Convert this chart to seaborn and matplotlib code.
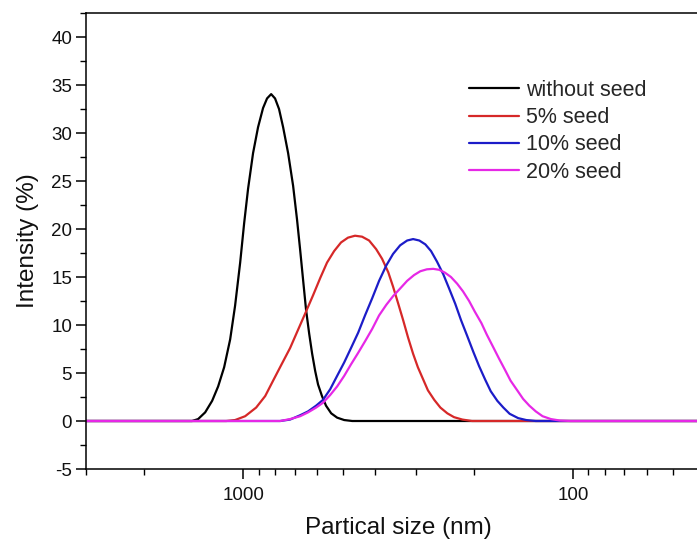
import numpy as np
import pandas as pd
import matplotlib
matplotlib.use("Agg")
import matplotlib.pyplot as plt
import matplotlib.ticker as mticker
from matplotlib.lines import Line2D
import seaborn as sns

# ---- data (size in nm, intensity in %) ----
series_names = ["without seed", "5% seed", "10% seed", "20% seed"]
series_colors = ["#000000", "#d62828", "#1c1cc8", "#e628e6"]

x_black = [3000, 1431, 1372, 1306, 1244, 1193, 1144, 1097, 1060, 1023, 995,
           968, 935, 903, 872, 848, 824, 802, 780, 758, 732, 707, 688, 673,
           659, 646, 632, 619, 606, 594, 578, 562, 542, 520, 495, 468, 30]
y_black = [0, 0, 0.2, 0.9, 2.1, 3.6, 5.6, 8.5, 12.0, 16.5, 20.6,
           24.2, 27.9, 30.6, 32.6, 33.6, 34.05, 33.6, 32.5, 30.6, 27.9, 24.5, 21.0, 17.8,
           14.6, 11.6, 9.1, 7.0, 5.2, 3.8, 2.6, 1.6, 0.8, 0.35, 0.1, 0, 0]

x_red = [3000, 1128, 1060, 988, 915, 859, 813, 769, 722, 683, 646, 615, 585,
         558, 531, 506, 482, 459, 437, 416, 396, 380, 364, 352, 340, 328, 317,
         306, 296, 285, 276, 264, 253, 241, 230, 217, 203, 30]
y_red = [0, 0, 0.1, 0.5, 1.4, 2.6, 4.2, 5.8, 7.6, 9.5, 11.4, 13.1, 14.9,
         16.5, 17.7, 18.6, 19.1, 19.3, 19.2, 18.8, 17.9, 16.9, 15.5, 14.0, 12.3, 10.5, 8.7,
         7.0, 5.6, 4.3, 3.2, 2.2, 1.4, 0.8, 0.4, 0.15, 0, 0]

x_blue = [3000, 774, 722, 673, 637, 602, 574, 546, 520, 495, 472, 449, 428,
          407, 388, 369, 352, 335, 319, 306, 293, 281, 270, 259, 248, 238, 228,
          219, 210, 201, 193, 185, 178, 170, 163, 156, 147, 139, 130, 30]
y_blue = [0, 0, 0.15, 0.6, 1.0, 1.6, 2.2, 3.3, 4.7, 6.1, 7.6, 9.2, 11.0,
          12.8, 14.6, 16.2, 17.4, 18.3, 18.8, 18.95, 18.8, 18.4, 17.7, 16.6, 15.3, 13.8, 12.2,
          10.5, 8.9, 7.2, 5.7, 4.3, 3.1, 2.1, 1.4, 0.75, 0.3, 0.1, 0, 0]

x_magenta = [3000, 774, 722, 673, 637, 602, 574, 546, 520, 495, 472, 449, 428,
             407, 388, 369, 352, 335, 319, 304, 291, 278, 266, 255, 245, 235, 225,
             216, 207, 199, 190, 183, 175, 168, 161, 155, 148, 142, 136, 130, 124,
             117, 110, 102, 30]
y_magenta = [0, 0, 0.2, 0.5, 0.9, 1.4, 1.9, 2.7, 3.6, 4.7, 5.9, 7.1, 8.3,
             9.6, 11.0, 12.1, 13.0, 13.8, 14.6, 15.2, 15.6, 15.8, 15.85, 15.75, 15.45, 15.0, 14.3,
             13.5, 12.5, 11.4, 10.2, 9.0, 7.7, 6.5, 5.3, 4.2, 3.2, 2.3, 1.6, 1.0, 0.5,
             0.2, 0.05, 0, 0]

y_ticks = [-5, 0, 5, 10, 15, 20, 25, 30, 35, 40]
x_ticks = [1000, 100]

# ---- build long table ----
frames = []
for name, xs, ys in zip(series_names,
                        [x_black, x_red, x_blue, x_magenta],
                        [y_black, y_red, y_blue, y_magenta]):
    frames.append(pd.DataFrame({"size": xs, "intensity": ys, "series": name}))
df = pd.concat(frames, ignore_index=True)

sns.set_style("ticks")
plt.rcParams["font.family"] = ["Liberation Sans", "DejaVu Sans"]
plt.rcParams["axes.unicode_minus"] = False

fig = plt.figure(figsize=(6.97, 5.45), dpi=100)
ax = fig.add_axes([86 / 697, 1 - 469 / 545, 1 - 86 / 697, (469 - 13) / 545])

sns.lineplot(data=df, x="size", y="intensity", hue="series",
             hue_order=series_names, palette=series_colors,
             sort=False, estimator=None, linewidth=1.6, ax=ax, legend=False)

ax.set_xscale("log")
ax.set_xlim(3000, 42.2)
ax.set_ylim(-5, 42.5)

ax.xaxis.set_major_locator(mticker.FixedLocator(x_ticks))
ax.xaxis.set_major_formatter(mticker.FixedFormatter([str(v) for v in x_ticks]))
ax.xaxis.set_minor_locator(mticker.LogLocator(base=10, subs=np.arange(2, 10)))
ax.xaxis.set_minor_formatter(mticker.NullFormatter())

ax.yaxis.set_major_locator(mticker.FixedLocator(y_ticks))
ax.yaxis.set_major_formatter(mticker.FixedFormatter([str(v) for v in y_ticks]))
ax.yaxis.set_minor_locator(mticker.MultipleLocator(2.5))

ax.tick_params(axis="both", which="major", direction="out", length=7,
               width=1.1, labelsize=13.5, color="black", labelcolor="#111111")
ax.tick_params(axis="both", which="minor", direction="out", length=4.5,
               width=1.0, color="black")
ax.tick_params(axis="x", which="major", pad=6)
ax.tick_params(axis="y", which="major", pad=3)
ax.tick_params(top=False, right=False, which="both")

for side in ["left", "bottom", "top"]:
    ax.spines[side].set_linewidth(1.1)
    ax.spines[side].set_color("black")
ax.spines["right"].set_visible(False)
ax.spines["top"].set_visible(True)

ax.set_xlabel("Partical size (nm)", fontsize=17.5, labelpad=9, color="#111111")
ax.xaxis.set_label_coords((398 - 86) / 611, -0.105)
ax.set_ylabel("Intensity (%)", fontsize=17.5, labelpad=9, color="#111111")

handles = [Line2D([], [], color=c, linewidth=1.6) for c in series_colors]
fig.legend(handles, series_names, loc="upper left",
           bbox_to_anchor=(469 / 697, 1 - 80 / 545),
           frameon=False, fontsize=15.5, handlelength=2.3,
           handletextpad=0.37, labelspacing=0.29, borderpad=0, borderaxespad=0)

fig.savefig("out.png", dpi=100)
